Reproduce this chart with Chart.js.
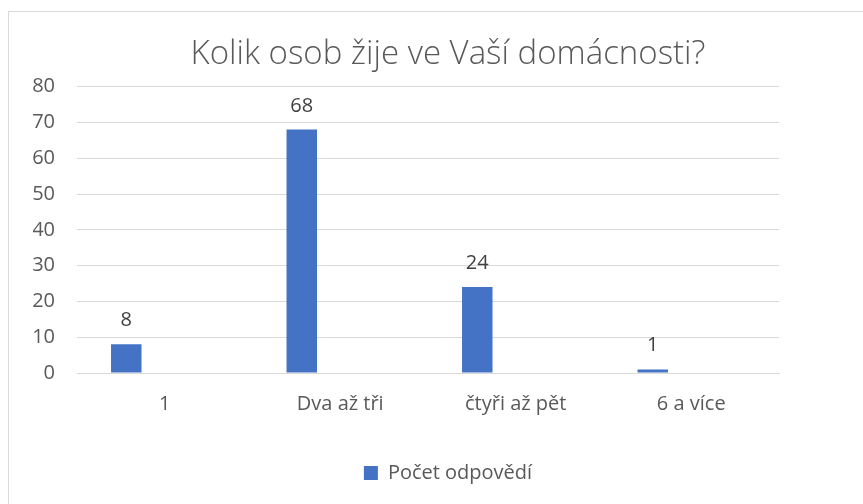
<!DOCTYPE html>
<html lang="cs">
<head>
<meta charset="UTF-8">
<title>Kolik osob žije ve Vaší domácnosti?</title>
<script src="https://cdn.jsdelivr.net/npm/chart.js"></script>
<style>
  body { margin: 0; background: #fff; overflow: hidden; }
  #frame { position: absolute; left: 8px; top: 11px; width: 1000px; height: 1000px; border: 1px solid #d9d9d9; }
  #chart { position: absolute; left: 0; top: 0; }
</style>
</head>
<body>
<div id="frame"></div>
<canvas id="chart" width="863" height="504"></canvas>
<script>
const categories = ['1', 'Dva až tři', 'čtyři až pět', '6 a více'];
const counts = [8, 68, 24, 1];
const emptySeries = [null, null, null, null];
const seriesName = 'Počet odpovědí';
const titleText = 'Kolik osob žije ve Vaší domácnosti?';

const textColor = '#595959';
const barColor = '#4472C4';
const gridColor = '#d9d9d9';
const fontFamily = '"Open Sans"';

// value labels above the bars
const valueLabels = {
    id: 'valueLabels',
    afterDatasetsDraw(chart) {
        const ctx = chart.ctx;
        const meta = chart.getDatasetMeta(0);
        ctx.save();
        ctx.font = '20px ' + fontFamily;
        ctx.fillStyle = '#404040';
        ctx.textAlign = 'center';
        ctx.textBaseline = 'alphabetic';
        meta.data.forEach((bar, i) => {
            ctx.fillText(String(counts[i]), bar.x, bar.y - 18);
        });
        ctx.restore();
    }
};

new Chart(document.getElementById('chart'), {
    type: 'bar',
    data: {
        labels: categories,
        datasets: [
            { label: seriesName, data: counts, backgroundColor: barColor,
              categoryPercentage: 0.877, barPercentage: 0.396 },
            { label: '', data: emptySeries, backgroundColor: barColor,
              categoryPercentage: 0.877, barPercentage: 0.396 }
        ]
    },
    options: {
        responsive: false,
        animation: false,
        layout: { padding: { left: 33, right: 0, top: 0, bottom: 11 } },
        plugins: {
            title: {
                display: true,
                text: titleText,
                color: textColor,
                font: { family: fontFamily, size: 33, weight: '300' },
                padding: { top: 35, bottom: 12 }
            },
            legend: {
                position: 'bottom',
                labels: {
                    color: textColor,
                    font: { family: fontFamily, size: 20 },
                    boxWidth: 14,
                    boxHeight: 14,
                    padding: 10,
                    filter: item => item.datasetIndex === 0
                }
            },
            tooltip: { enabled: false }
        },
        scales: {
            x: {
                grid: { display: false, drawTicks: false },
                border: { display: true, color: gridColor },
                ticks: { color: textColor, font: { family: fontFamily, size: 20 }, padding: 19, maxRotation: 0 },
                afterFit(scale) { scale.height = 80; }
            },
            y: {
                min: 0,
                max: 80,
                ticks: { stepSize: 10, color: textColor, font: { family: fontFamily, size: 20 }, padding: 22 },
                grid: { color: gridColor, drawTicks: false },
                border: { display: false },
                afterFit(scale) { scale.width = 44; }
            },
            // empty right axis keeps the plot clear of the right margin
            yRight: {
                position: 'right',
                grid: { display: false, drawTicks: false },
                border: { display: false },
                ticks: { display: false },
                afterFit(scale) { scale.width = 84; }
            }
        }
    },
    plugins: [valueLabels]
});
</script>
</body>
</html>
